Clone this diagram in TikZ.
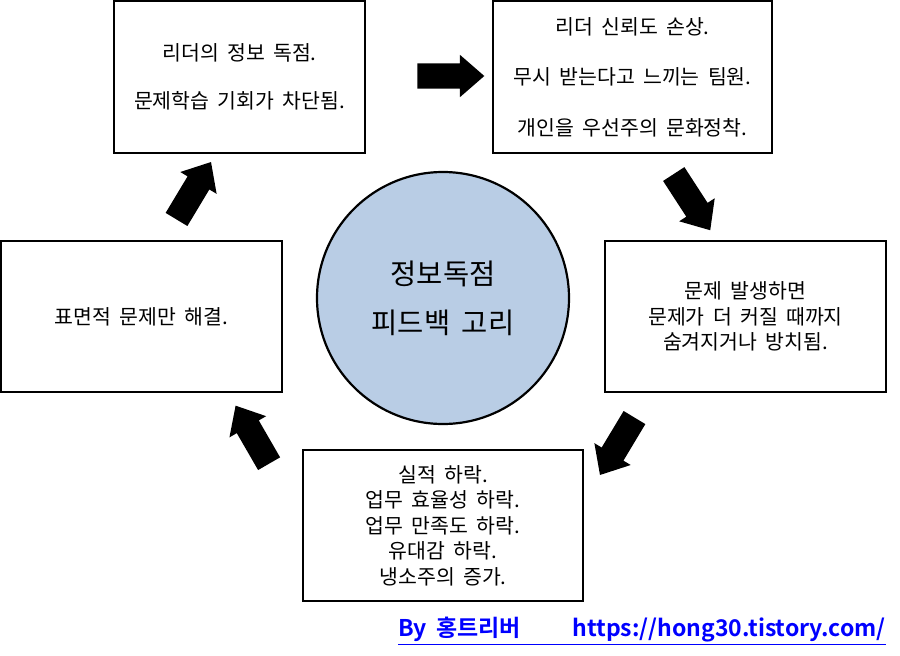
\documentclass[tikz,border=0pt]{standalone}
\usepackage{fontspec}
\setmainfont{Noto Sans CJK KR}[BoldFont={Noto Sans CJK KR Bold}, WordSpace=1.8]
\usetikzlibrary{shapes.arrows}
\definecolor{loopblue}{RGB}{185,205,229}
\definecolor{linkblue}{RGB}{0,0,255}
\tikzset{
  stagebox/.style={draw, line width=2.6pt, align=center, inner sep=3pt, font=\fontsize{20.5}{25.5}\selectfont},
  flowarrow/.style={single arrow, fill=black, draw=none, minimum height=67pt, inner xsep=0pt, inner ysep=12.5pt, single arrow head extend=8.5pt, single arrow tip angle=82},
}
\begin{document}
\begin{tikzpicture}[x=1pt, y=-1pt]
    \useasboundingbox (0,0) rectangle (900,656);

    % stages of the loop
    \node [stagebox, minimum width=251pt, minimum height=152pt] (monopoly) at (239.5,77) {리더의 정보 독점.\\[23pt]문제학습 기회가 차단됨.};
    \node [stagebox, minimum width=279pt, minimum height=152pt] (trust) at (632.5,77) {리더 신뢰도 손상.\\[25pt]무시 받는다고 느끼는 팀원.\\[25pt]개인을 우선주의 문화정착.};
    \node [stagebox, minimum width=281pt, minimum height=151pt] (hidden) at (745.5,316.5) {문제 발생하면\\문제가 더 커질 때까지\\숨겨지거나 방치됨.};
    \node [stagebox, minimum width=280pt, minimum height=151pt] (decline) at (443,525.5) {실적 하락.\\업무 효율성 하락.\\업무 만족도 하락.\\유대감 하락.\\냉소주의 증가.};
    \node [stagebox, minimum width=281pt, minimum height=151pt] (surface) at (141.5,316.5) {표면적 문제만 해결.};

    % centre
    \node [circle, draw, line width=2.2pt, fill=loopblue, minimum size=252pt, align=center, font=\fontsize{28.5}{49}\selectfont] (loop) at (443,298) {정보독점\\피드백 고리};

    % block arrows
    \node [flowarrow] (arrA) at (443.5,76) {};
    \node [flowarrow, rotate=-57] (arrB) at (688,196) {};
    \node [flowarrow, rotate=-121] (arrC) at (621,440) {};
    \node [flowarrow, rotate=120] (arrD) at (256,441) {};
    \node [flowarrow, rotate=59] (arrE) at (190,197) {};

    % footer
    \node [text=linkblue, font=\bfseries\fontsize{23}{26}\selectfont] (credit) at (642,631) {\underline{By 홍트리버\hspace{52pt}https://hong30.tistory.com/}};
\end{tikzpicture}
\end{document}
